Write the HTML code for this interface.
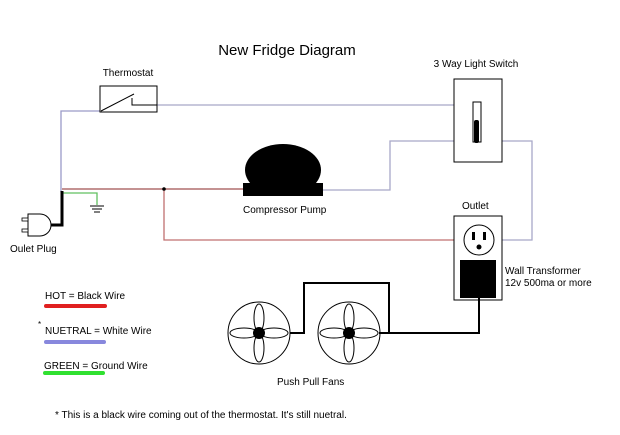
<!DOCTYPE html>
<html><head><style>body{margin:0;background:#fff}svg{display:block}text{font-family:"Liberation Sans",sans-serif;font-size:10px;fill:#000}</style></head><body>
<svg width="620" height="435" viewBox="0 0 620 435" xmlns="http://www.w3.org/2000/svg">
<rect width="620" height="435" fill="#fff"/>
<text x="287" y="55" text-anchor="middle" style="font-size:15px">New Fridge Diagram</text>
<text x="128" y="76" text-anchor="middle">Thermostat</text>
<text x="476" y="67" text-anchor="middle">3 Way Light Switch</text>
<g fill="none" stroke-width="1.3">
<polyline points="100,111 61,111 61,192" stroke="#9a9ac8"/>
<line x1="157" y1="105" x2="455" y2="105" stroke="#a8a8c8"/>
<polyline points="323,190 390,190 390,141 455,141" stroke="#a8a8c8"/>
<polyline points="502,141 532,141 532,240 502,240" stroke="#a8a8c8"/>
<line x1="62" y1="189" x2="243" y2="189" stroke="#a05050"/>
<polyline points="164,189 164,240 455,240" stroke="#c07070"/>
<polyline points="63,193 97,193 97,205" stroke="#60c060"/>
</g>
<circle cx="164" cy="189" r="1.8" fill="#000"/>
<g stroke="#000" stroke-width="1"><line x1="90" y1="206" x2="104" y2="206"/><line x1="92" y1="209" x2="102" y2="209"/><line x1="94" y1="212" x2="100" y2="212"/></g>
<polyline points="62,191 62,225 48,225" fill="none" stroke="#000" stroke-width="3"/>
<path d="M28,214 L40,214 A11,11 0 0 1 40,236 L28,236 Z" fill="#fff" stroke="#000"/>
<rect x="22" y="218" width="6" height="3" fill="#fff" stroke="#000" stroke-width="0.8"/>
<rect x="22" y="229" width="6" height="3" fill="#fff" stroke="#000" stroke-width="0.8"/>
<text x="10" y="252">Oulet Plug</text>
<rect x="100" y="86" width="57" height="26" fill="#fff" stroke="#000"/>
<line x1="101" y1="111" x2="134" y2="94" stroke="#000"/>
<polyline points="132,98 132,105 157,105" fill="none" stroke="#000"/>
<ellipse cx="283" cy="170" rx="38" ry="26" fill="#000"/>
<rect x="243" y="183" width="80" height="13" fill="#000"/>
<text x="243" y="213">Compressor Pump</text>
<rect x="454" y="79" width="48" height="83" fill="#fff" stroke="#000"/>
<rect x="473" y="102" width="8" height="40" fill="#fff" stroke="#000"/>
<rect x="474" y="120" width="5" height="23" fill="#000" rx="2"/>
<text x="462" y="209">Outlet</text>
<rect x="454" y="216" width="48" height="84" fill="#fff" stroke="#000"/>
<circle cx="479" cy="240" r="15" fill="#fff" stroke="#000"/>
<rect x="472" y="232" width="3" height="8" fill="#000"/><rect x="483" y="232" width="3" height="8" fill="#000"/>
<circle cx="479" cy="247" r="2.5" fill="#000"/>
<rect x="460" y="260" width="36" height="38" fill="#000"/>
<text x="505" y="274">Wall Transformer</text>
<text x="505" y="286">12v 500ma or more</text>
<polyline points="290,333 304,333 304,283 389,283 389,333" fill="none" stroke="#000" stroke-width="2"/>
<polyline points="379,333 479,333 479,298" fill="none" stroke="#000" stroke-width="2"/>
<g fill="none" stroke="#000">
<circle cx="259" cy="333" r="31"/>
<ellipse cx="259" cy="318" rx="5" ry="14"/><ellipse cx="259" cy="348" rx="5" ry="14"/>
<ellipse cx="244" cy="333" rx="14" ry="5"/><ellipse cx="274" cy="333" rx="14" ry="5"/>
<circle cx="349" cy="333" r="31"/>
<ellipse cx="349" cy="318" rx="5" ry="14"/><ellipse cx="349" cy="348" rx="5" ry="14"/>
<ellipse cx="334" cy="333" rx="14" ry="5"/><ellipse cx="364" cy="333" rx="14" ry="5"/>
</g>
<circle cx="259" cy="333" r="6" fill="#000"/><circle cx="349" cy="333" r="6" fill="#000"/>
<text x="277" y="385">Push Pull Fans</text>
<text x="45" y="299">HOT = Black Wire</text>
<line x1="46" y1="306" x2="105" y2="306" stroke="#e02020" stroke-width="4" stroke-linecap="round"/>
<text x="38" y="327" style="font-size:8px">*</text>
<text x="45" y="334">NUETRAL = White Wire</text>
<line x1="46" y1="342" x2="104" y2="342" stroke="#8888dd" stroke-width="4" stroke-linecap="round"/>
<text x="44" y="369">GREEN = Ground Wire</text>
<line x1="45" y1="373" x2="103" y2="373" stroke="#30e030" stroke-width="4" stroke-linecap="round"/>
<text x="55" y="418">* This is a black wire coming out of the thermostat. It's still nuetral.</text>
</svg>
</body></html>
